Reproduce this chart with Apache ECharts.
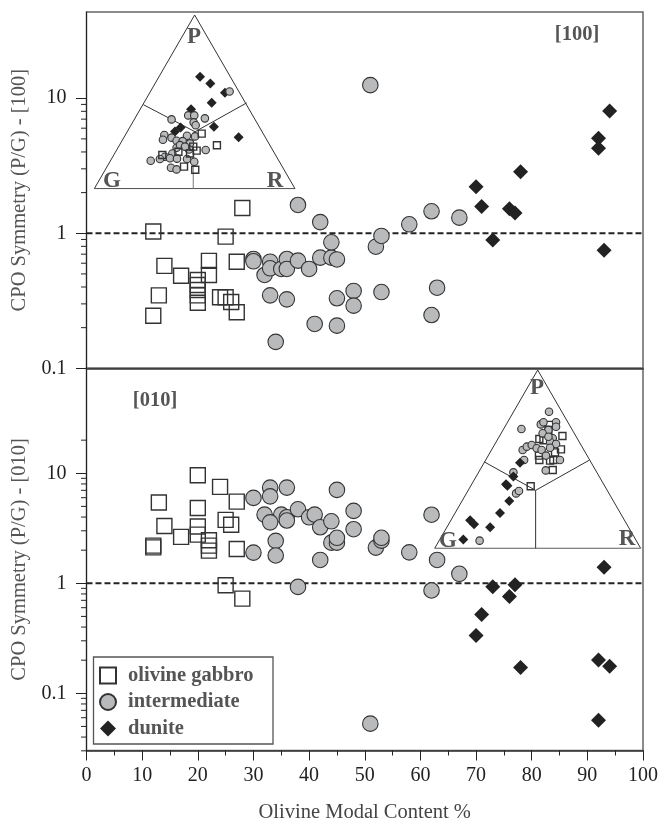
<!DOCTYPE html>
<html><head><meta charset="utf-8">
<style>html,body{margin:0;padding:0;background:#fff}#c{width:665px;height:820px}</style>
<script src="https://cdn.jsdelivr.net/npm/echarts@6/dist/echarts.min.js"></script>
</head><body><div id="c"></div>
<script>
// Modal content %, CPO symmetry P/G: upper panel [100]
const gabbro100 = [[12,1.03],[28,1.54],[25,0.944],[14,0.573],[17,0.485],[22,0.624],[22,0.491],[20,0.451],[20,0.414],[20,0.38],[20,0.347],[20,0.306],[27,0.616],[13,0.347],[12,0.245],[24,0.336],[25,0.336],[26,0.31],[27,0.26]];
const inter100 = [[30,0.645],[30,0.62],[33,0.616],[32,0.491],[33,0.55],[35,0.544],[36,0.645],[36,0.544],[38,0.627],[40,0.544],[42,0.66],[44,0.66],[45,0.64],[38,1.62],[42,1.21],[44,0.857],[52,0.795],[53,0.955],[33,0.347],[36,0.324],[45,0.33],[48,0.374],[48,0.291],[53,0.367],[41,0.213],[45,0.207],[34,0.157],[58,1.165],[62,1.455],[67,1.305],[63,0.395],[62,0.248],[51,12.5]];
const dunite100 = [[70,2.21],[71,1.58],[73,0.89],[76,1.52],[77,1.41],[78,2.86],[92,5.05],[92,4.26],[94,8.05],[93,0.748]];
// lower panel [010]
const gabbro010 = [[20,9.6],[24,7.52],[27,5.53],[13,5.42],[20,4.84],[25,3.77],[26,3.4],[14,3.32],[20,3.28],[20,2.77],[17,2.64],[22,2.46],[22,2.2],[22,1.98],[12,2.2],[12,2.12],[27,2.05],[25,0.96],[28,0.726]];
const inter010 = [[30,5.97],[33,7.41],[33,6.17],[36,7.41],[32,4.21],[35,4.21],[36,3.98],[36,3.72],[33,3.58],[38,4.71],[40,3.98],[41,4.21],[42,3.23],[44,3.66],[45,7.06],[48,4.55],[48,3.1],[44,2.34],[45,2.34],[45,2.59],[34,2.43],[30,1.9],[34,1.79],[42,1.63],[38,0.927],[52,2.11],[53,2.44],[53,2.59],[58,1.91],[63,1.63],[67,1.22],[62,0.86],[62,4.2],[51,0.053]];
const dunite010 = [[93,1.4],[73,0.93],[77,0.97],[76,0.757],[71,0.52],[70,0.335],[78,0.172],[92,0.201],[94,0.176],[92,0.057]];
const refLine = [[0,1],[100,1]];
// Ternary insets: [position along G-R base %, height towards P %]
const triOutline = [[0,0],[50,100],[100,0],[0,0]];
const tri100A = [[24.4,48.4],[50.2,32.8]];
const tri100B = [[50.2,32.8],[75.9,49.4]];
const tri100C = [[49.3,32.8],[49.3,0]];
const tri010A = [[24,48.5],[49,32.5]];
const tri010B = [[75,49.4],[49,32.5]];
const tri010C = [[49,32.5],[49,0]];
const triGab100 = [[53.5,31.7],[61.1,25],[51,21.9],[49.3,24.2],[33.9,19.4],[41.9,21.3],[47.7,20.3],[44.7,12.7],[50.3,10.9]];
const triInt100 = [[67.4,56],[38.5,39.9],[46.8,42.2],[49.8,42.2],[55.1,40.5],[49.5,38.2],[50.5,36.5],[34.9,30.9],[34.2,28.2],[38.5,29.4],[46.2,30.5],[50.2,30.1],[41,27.6],[44,27.4],[47.7,26.1],[41,23.6],[47.2,22.6],[55.5,22.3],[38.9,20.3],[35.2,18.4],[32.7,17.1],[28.1,16.1],[37.7,17.5],[41.2,17.3],[46.2,17.1],[49.8,15.5],[38.2,12.1],[41,11.1],[42.7,25.1],[45.2,24.2]];
const triDun100 = [[52.7,64.5],[57.8,60.5],[65.1,55.3],[58.5,49.5],[48.2,45.7],[59.6,35.7],[71.9,29.6],[43,35.3],[40.2,33]];
const triGab010 = [[46.6,34.8],[57.3,43.9],[50.8,49.5],[50.6,52],[56,49.2],[57.6,49.5],[61.3,55.5],[62,63],[50.8,61.3],[52.8,60.6],[55.7,69.2],[55.2,66.4],[58.4,53.8]];
const triInt010 = [[21.8,4.3],[39.5,30.8],[40.9,32.1],[38.2,42.6],[43.4,49.5],[42.7,55.1],[44.7,57],[47.1,57.9],[49.5,56.1],[51.9,55.1],[54,52],[53.9,43.7],[60.8,49.5],[42.1,66.9],[55.5,76.6],[51.5,69.5],[52.8,70.7],[58.9,70.7],[58.9,68.2],[55.2,66.4],[52.4,64.5],[57.3,61.7],[56,59.8],[58.9,58.5],[56,56.4],[55.2,62.6]];
const triDun010 = [[13.9,5],[26.9,11.8],[19.1,13.5],[17.2,15.7],[31.7,19.8],[36.2,26.5],[34.6,35.9],[35.3,35.1],[38.2,40.2],[41.4,48]];
// Tick values
const major100 = [0.1,1,10];
const minor100 = [0.2,0.3,0.4,0.5,0.6,0.7,0.8,0.9,2,3,4,5,6,7,8,9];
const major010 = [0.1,1,10];
const minor010 = [0.03,0.04,0.05,0.06,0.07,0.08,0.09,0.2,0.3,0.4,0.5,0.6,0.7,0.8,0.9,2,3,4,5,6,7,8,9,20];
const names = ['olivine gabbro','intermediate','dunite'];

const SERIF = '"Liberation Serif"', INK='#222', GREY='#555';
function yAxis(gridIndex,min,max,major,name){
  return {type:'log',gridIndex,min,max,position:'left',name,nameLocation:'middle',nameGap:60.5,
    nameTextStyle:{fontFamily:SERIF,fontSize:20.5,color:GREY,verticalAlign:'middle'},
    axisLine:{show:true,onZero:false,lineStyle:{color:INK,width:1}},
    axisTick:{show:true,length:10.5,customValues:major,lineStyle:{color:INK,width:1}},
    axisLabel:{show:true,customValues:major,fontFamily:SERIF,fontSize:20,color:INK,margin:20,formatter:v=>String(v)},
    splitLine:{show:false},minorTick:{show:false},minorSplitLine:{show:false}};
}
const mainX = (gridIndex,full)=>({type:'value',gridIndex,min:0,max:100,interval:10,position:'bottom',
  name:full?'Olivine Modal Content %':'',nameLocation:'middle',nameGap:52,
  nameTextStyle:{fontFamily:SERIF,fontSize:20.5,color:'#444'},
  axisLine:{show:true,onZero:false,lineStyle:{color:'#333',width:1.5}},
  axisTick:{show:full,length:10,lineStyle:{color:INK,width:1}},
  minorTick:{show:full,splitNumber:2,length:5,lineStyle:{color:INK,width:1}},
  axisLabel:{show:full,fontFamily:SERIF,fontSize:20,color:INK,margin:15},
  splitLine:{show:false},minorSplitLine:{show:false}});
const hidden = (gridIndex)=>({type:'value',gridIndex,min:0,max:100,show:false,splitLine:{show:false}});

const mk = {
 g:{symbol:'rect',symbolSize:15,itemStyle:{color:'rgba(255,255,255,0)',borderColor:'#333',borderWidth:1.4,opacity:1}},
 i:{symbol:'circle',symbolSize:15.5,itemStyle:{color:'#b9babc',borderColor:'#333',borderWidth:1.1,opacity:1}},
 d:{symbol:'diamond',symbolSize:15,itemStyle:{color:'#222',borderWidth:0,opacity:1}}
};
function scat(name,st,data,xi,yi,size){
  return {type:'scatter',name,data,xAxisIndex:xi,yAxisIndex:yi,symbol:st.symbol,
    symbolSize:size||st.symbolSize,itemStyle:st.itemStyle,clip:false,silent:true,animation:false,z:3};
}
function ln(data,xi,yi,color,width,dash){
  return {type:'line',data,xAxisIndex:xi,yAxisIndex:yi,symbol:'none',silent:true,animation:false,z:2,
    lineStyle:{color,width,type:dash?[6,3]:'solid'}};
}
// minor log ticks, placed by the y scale at x = 0, hanging left of the axis
function minorTicks(vals,xi,yi){
  return {type:'scatter',data:vals.map(v=>[0,v]),xAxisIndex:xi,yAxisIndex:yi,symbol:'rect',symbolSize:[5.5,1],
    symbolOffset:[-2.75,0],clip:false,silent:true,animation:false,z:1,itemStyle:{color:INK,opacity:1}};
}
const txt=(x,y,t,size)=>({type:'text',x,y,z:20,style:{text:t,fontFamily:SERIF,fontWeight:'bold',fontSize:size,fill:GREY,align:'center',verticalAlign:'middle'}});

const gridBase={containLabel:false,outerBoundsMode:'none'};
const option={
 backgroundColor:'#fff',animation:false,
 grid:[
  {...gridBase,left:86.5,top:12,width:556.5,height:356.3,show:true,borderColor:'#666',borderWidth:1.5,backgroundColor:'transparent'},
  {...gridBase,left:86.5,top:368.3,width:556.5,height:382.2,show:true,borderColor:'#666',borderWidth:1.5,backgroundColor:'transparent'},
  {...gridBase,left:94.3,top:15,width:200.7,height:173.7},
  {...gridBase,left:434.7,top:370,width:206,height:178.3}
 ],
 xAxis:[mainX(0,false),mainX(1,true),hidden(2),hidden(3)],
 yAxis:[yAxis(0,0.1,43.5,major100,'CPO Symmetry (P/G) - [100]'),
        yAxis(1,0.0302,90,major010,'CPO Symmetry (P/G) - [010]'),
        hidden(2),hidden(3)],
 legend:{show:true,orient:'vertical',left:99,top:665,itemWidth:16,itemHeight:16,itemGap:5.5,padding:0,
   data:names.map(n=>({name:n})),selectedMode:false,
   textStyle:{fontFamily:SERIF,fontWeight:'bold',fontSize:20.5,color:GREY,padding:[0,0,9,7]}},
 series:[
  minorTicks(minor100,0,0), minorTicks(minor010,1,1),
  ln(refLine,0,0,'#222',2,true), ln(refLine,1,1,'#222',2,true),
  scat(names[0],mk.g,gabbro100,0,0), scat(names[1],mk.i,inter100,0,0), scat(names[2],mk.d,dunite100,0,0),
  scat(names[0],mk.g,gabbro010,1,1), scat(names[1],mk.i,inter010,1,1), scat(names[2],mk.d,dunite010,1,1),
  ln(triOutline,2,2,'#333',1), ln(tri100A,2,2,'#333',1), ln(tri100B,2,2,'#333',1), ln(tri100C,2,2,'#777',1),
  ln(triOutline,3,3,'#333',1), ln(tri010A,3,3,'#333',1), ln(tri010B,3,3,'#333',1), ln(tri010C,3,3,'#333',1),
  scat(names[2],mk.d,triDun100,2,2,10), scat(names[1],mk.i,triInt100,2,2,7.5), scat(names[0],mk.g,triGab100,2,2,7),
  scat(names[0],mk.g,triGab010,3,3,7), scat(names[1],mk.i,triInt010,3,3,7.5), scat(names[2],mk.d,triDun010,3,3,10)
 ],
 graphic:[
  {type:'rect',z:10,shape:{x:93.5,y:657,width:179.5,height:87},style:{fill:'none',stroke:'#555',lineWidth:1.3}},
  txt(577,35,'[100]',20.5), txt(155,401,'[010]',20.5),
  txt(194,37,'P',23), txt(112,181,'G',23), txt(275,181,'R',23),
  txt(537,388,'P',23), txt(448,541,'G',23), txt(627,539,'R',23)
 ]
};
const chart=echarts.init(document.getElementById('c'),null,{renderer:'canvas'});
chart.setOption(option);
</script></body></html>
